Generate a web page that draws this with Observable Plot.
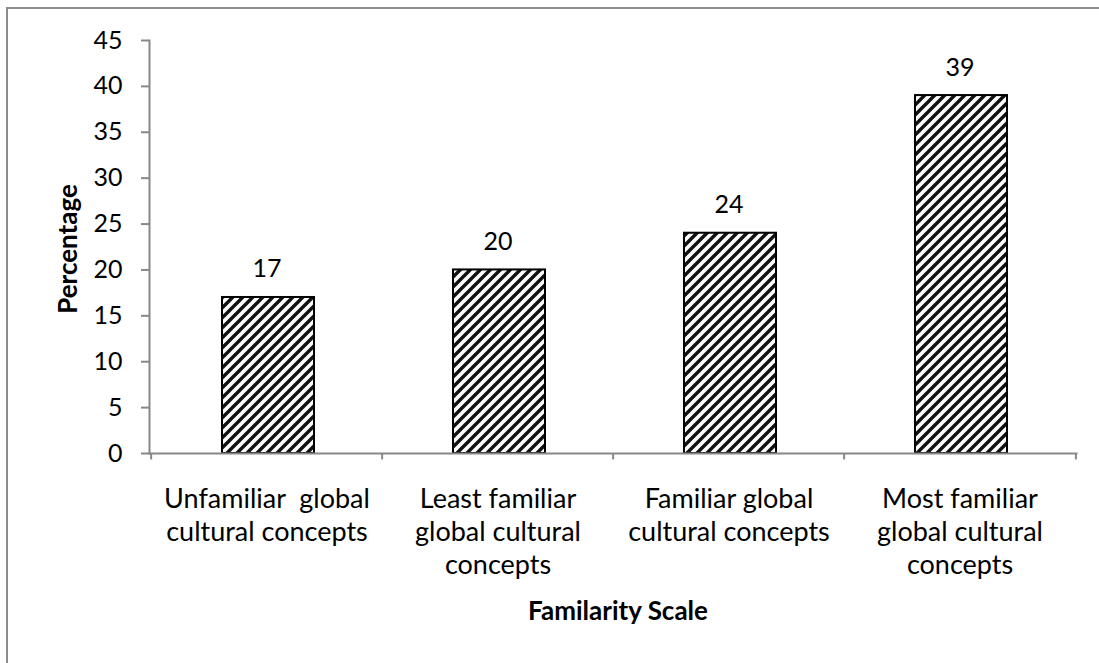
<!DOCTYPE html>
<html><head><meta charset="utf-8">
<script src="https://cdn.jsdelivr.net/npm/d3@7"></script>
<script src="https://cdn.jsdelivr.net/npm/@observablehq/plot@0.6"></script>
<style>
body{margin:0;background:#fff;}
#wrap{position:relative;width:1099px;height:663px;overflow:hidden;}
#border{position:absolute;left:6px;top:7px;width:1200px;height:800px;border-top:2px solid #8c8c8c;border-left:2px solid #8c8c8c;pointer-events:none;}
</style></head><body><div id="wrap"><div id="border"></div></div>
<script>
const categories = [
  "Unfamiliar  global\ncultural concepts",
  "Least familiar\nglobal cultural\nconcepts",
  "Familiar global\ncultural concepts",
  "Most familiar\nglobal cultural\nconcepts"
];
const percentages = [17, 20, 24, 39];
const yTicks = [0, 5, 10, 15, 20, 25, 30, 35, 40, 45];
const xTitle = "Familarity Scale";
const yTitle = "Percentage";

const data = categories.map((c, i) => ({category: c, value: percentages[i]}));

const W = 1099, H = 663, mL = 149, mR = 23, mT = 40, mB = 210;
const step = (W - mL - mR) / categories.length;
const font = "Lato, 'Open Sans', sans-serif";

const hatch = () => {
  const defs = d3.create("svg:defs");
  const p = defs.append("pattern").attr("id", "hatch")
    .attr("patternUnits", "userSpaceOnUse").attr("width", 10).attr("height", 10);
  p.append("rect").attr("width", 10).attr("height", 10).attr("fill", "white");
  p.append("path").attr("d", "M-2.5,2.5 l5,-5 M0,10 l10,-10 M7.5,12.5 l5,-5")
    .attr("stroke", "#111").attr("stroke-width", 3.4);
  return defs.node();
};

const chart = Plot.plot({
  width: W, height: H,
  marginLeft: mL, marginRight: mR, marginTop: mT, marginBottom: mB,
  style: {fontFamily: font, fontSize: "25px", background: "transparent", color: "black", overflow: "visible"},
  x: {domain: categories, paddingInner: 0, paddingOuter: 0, axis: null},
  y: {domain: [0, 45], axis: null},
  marks: [
    hatch,
    Plot.barY(data, {x: "category", y: "value", fill: "url(#hatch)", stroke: "black", strokeWidth: 2, insetLeft: 71, insetRight: 68}),
    Plot.axisY({ticks: yTicks, tickSize: 8, tickPadding: 19, stroke: "#888", strokeWidth: 2, fill: "black", label: null, fontSize: 25}),
    Plot.frame({anchor: "left", stroke: "#888", strokeWidth: 2}),
    Plot.frame({anchor: "bottom", stroke: "#888", strokeWidth: 2}),
    Plot.ruleX(categories, {x: d => d, dx: -step / 2, y1: 0, y2: -0.7, stroke: "#888", strokeWidth: 2}),
    Plot.ruleX([categories[categories.length - 1]], {x: d => d, dx: step / 2, y1: 0, y2: -0.7, stroke: "#888", strokeWidth: 2}),
    Plot.text(data, {x: "category", y: "value", text: d => String(d.value), dy: -28, fill: "black", fontSize: 25}),
    Plot.text(data, {x: "category", y: 0, text: "category", lineAnchor: "top", dy: 31, lineHeight: 1.22, fill: "black", fontSize: 27}),
    Plot.text([yTitle], {frameAnchor: "left", textAnchor: "middle", lineAnchor: "middle", dx: -81, dy: 2, rotate: -90, fontWeight: "bold", fontSize: 26, fill: "black"}),
    Plot.text([xTitle], {frameAnchor: "bottom", textAnchor: "middle", lineAnchor: "middle", dx: 5, dy: 158, fontWeight: "bold", fontSize: 26, fill: "black"})
  ]
});
document.getElementById("wrap").prepend(chart);
</script>
</body></html>
